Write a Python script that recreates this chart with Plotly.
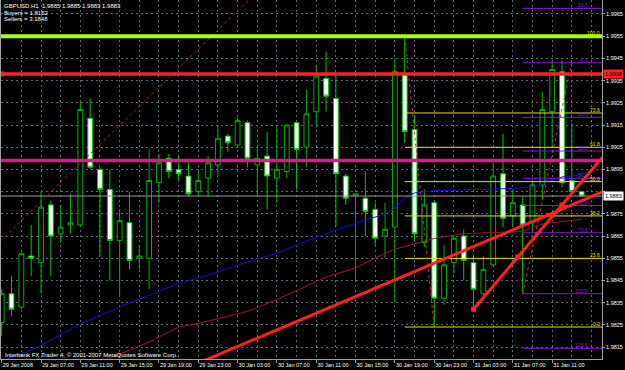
import plotly.graph_objects as go

# ---------------- data ----------------
bars = list(range(60))  # hourly bars from 29 Jan 2008 03:00
tick_pos = [0, 4, 8, 12, 16, 20, 24, 28, 32, 36, 40, 44, 48, 52, 56]
tick_labels = ["29 Jan 2008", "29 Jan 07:00", "29 Jan 11:00", "29 Jan 15:00",
               "29 Jan 19:00", "29 Jan 23:00", "30 Jan 03:00", "30 Jan 07:00",
               "30 Jan 11:00", "30 Jan 15:00", "30 Jan 19:00", "30 Jan 23:00",
               "31 Jan 03:00", "31 Jan 07:00", "31 Jan 11:00"]
price_ticks = [1.9815, 1.9825, 1.9835, 1.9845, 1.9855, 1.9865, 1.9875, 1.9885,
               1.9895, 1.9905, 1.9915, 1.9925, 1.9935, 1.9945, 1.9955, 1.9965]

open_ = [1.9826, 1.9839, 1.9833, 1.9856, 1.9853, 1.9879, 1.9866, 1.9870, 1.9870, 1.9918,
         1.9895, 1.9886, 1.9863, 1.9871, 1.9855, 1.9855, 1.9889, 1.9900, 1.9895, 1.9892,
         1.9885, 1.9891, 1.9897, 1.9910, 1.9906, 1.9916, 1.9897, 1.9901, 1.9891, 1.9894,
         1.9916, 1.9905, 1.9921, 1.9936, 1.9927, 1.9892, 1.9883, 1.9882, 1.9877, 1.9865,
         1.9869, 1.9938, 1.9913, 1.9862, 1.9880, 1.9837, 1.9853, 1.9865, 1.9853, 1.9839,
         1.9852, 1.9893, 1.9874, 1.9879, 1.9871, 1.9888, 1.9921, 1.9939, 1.9890, 1.9885]
high = [1.9841, 1.9847, 1.9857, 1.9870, 1.9885, 1.9881, 1.9879, 1.9884, 1.9926, 1.9927,
        1.9896, 1.9895, 1.9877, 1.9885, 1.9861, 1.9904, 1.9902, 1.9902, 1.9901, 1.9898,
        1.9894, 1.9901, 1.9915, 1.9911, 1.9918, 1.9917, 1.9905, 1.9912, 1.9914, 1.9915,
        1.9916, 1.9931, 1.9942, 1.9948, 1.9938, 1.9893, 1.9884, 1.9894, 1.9880, 1.9880,
        1.9945, 1.9955, 1.9919, 1.9886, 1.9881, 1.9861, 1.9865, 1.9868, 1.9856, 1.9856,
        1.9898, 1.9911, 1.9886, 1.9883, 1.9890, 1.9930, 1.9944, 1.9944, 1.9916, 1.9885]
low = [1.9820, 1.9829, 1.9832, 1.9847, 1.9839, 1.9847, 1.9862, 1.9866, 1.9869, 1.9895,
       1.9856, 1.9845, 1.9838, 1.9850, 1.9850, 1.9841, 1.9880, 1.9891, 1.9890, 1.9883,
       1.9883, 1.9883, 1.9892, 1.9903, 1.9905, 1.9896, 1.9883, 1.9877, 1.9880, 1.9891,
       1.9886, 1.9896, 1.9914, 1.9921, 1.9869, 1.9879, 1.9845, 1.9865, 1.9861, 1.9855,
       1.9835, 1.9907, 1.9863, 1.9860, 1.9824, 1.9834, 1.9848, 1.9845, 1.9833, 1.9838,
       1.9851, 1.9869, 1.9869, 1.9839, 1.9867, 1.9881, 1.9905, 1.9887, 1.9883, 1.9883]
close = [1.9839, 1.9832, 1.9857, 1.9855, 1.9878, 1.9865, 1.9869, 1.9871, 1.9922, 1.9896,
         1.9886, 1.9863, 1.9872, 1.9854, 1.9856, 1.9890, 1.9898, 1.9894, 1.9893, 1.9884,
         1.9890, 1.9898, 1.9909, 1.9907, 1.9917, 1.9900, 1.9900, 1.9892, 1.9895, 1.9915,
         1.9904, 1.9920, 1.9937, 1.9928, 1.9893, 1.9882, 1.9884, 1.9876, 1.9864, 1.9868,
         1.9939, 1.9912, 1.9866, 1.9879, 1.9837, 1.9852, 1.9864, 1.9854, 1.9841, 1.9850,
         1.9892, 1.9873, 1.9880, 1.9870, 1.9888, 1.9922, 1.9940, 1.9889, 1.9885, 1.9883]

ma_blue_x = [0, 3, 5, 8, 12, 15, 18, 20, 22, 25, 28, 31, 34, 37, 39, 40, 41, 42, 44, 48, 52, 54, 56, 57, 58, 59]
ma_blue_y = [1.98087, 1.98136, 1.98181, 1.98254, 1.98330, 1.98384, 1.98436, 1.98461, 1.98488, 1.98533,
             1.98573, 1.98627, 1.98677, 1.98722, 1.98749, 1.98776, 1.98820, 1.98844, 1.98854, 1.98859,
             1.98864, 1.98872, 1.98902, 1.98916, 1.98920, 1.98925]
ma_red_x = [11, 13, 15, 18, 20, 25, 28, 33, 36, 38, 40, 42, 44, 47, 53, 55, 59]
ma_red_y = [1.98100, 1.98136, 1.98172, 1.98240, 1.98256, 1.98310, 1.98364, 1.98465, 1.98506, 1.98551,
            1.98591, 1.98614, 1.98639, 1.98661, 1.98670, 1.98704, 1.98726]

hline_lime = 1.9955
hline_red = 1.9938
hline_pink = 1.9899
bid_price = 1.9883

trend1_x = [26, 58]
trend1_y = [1.9819, 1.9879]
trend2_x = [48, 57]
trend2_y = [1.9832, 1.9879]
dotted_old_x = [-1, 26]
dotted_old_y = [1.9859, 1.9975]

fib_levels = [-23.6, 0.0, 23.6, 38.2, 50.0, 61.8, 73.6, 100.0, 123.6]
fib1_start = 41
fib1_p1, fib1_p2 = 1.9955, 1.9824     # 100% , 0%
fib1_x = [41, 44]
fib2_start = 53
fib2_p1, fib2_p2 = 1.9839, 1.9943
fib2_x = [53, 58]

header = ["GBPUSD,H1  1.9885 1.9885 1.9883 1.9883", "Buyers = 1.8152", "Sellers = 3.1848"]
footer = "Interbank FX Trader 4, \u00a9 2001-2007 MetaQuotes Software Corp."

# ---------------- figure ----------------
XMIN, XMAX = -0.07, 61.07
YMIN, YMAX = 1.98096, 1.99713
FONT = "Liberation Sans"
GRID = "#5d6878"

fig = go.Figure()
fig.add_trace(go.Candlestick(
    x=bars, open=open_, high=high, low=low, close=close,
    increasing=dict(line=dict(color="#00b000", width=1), fillcolor="#000000"),
    decreasing=dict(line=dict(color="#00c800", width=1), fillcolor="#ffffff"),
    whiskerwidth=0, showlegend=False, hoverinfo="skip"))

def line(x, y, color, width, dash="solid", mode="lines", marker=None):
    fig.add_trace(go.Scatter(x=x, y=y, mode=mode, line=dict(color=color, width=width, dash=dash),
                             marker=marker, showlegend=False, hoverinfo="skip"))

# moving averages
line(ma_blue_x, ma_blue_y, "#1010c8", 1)
line(ma_red_x, ma_red_y, "#a01818", 1)

# old dotted fib trend line
line(dotted_old_x, dotted_old_y, "#b01c1c", 1, dash="dot")

# fibonacci objects
def fib(start, p1, p2, color, xs, size, above, xpos):
    for lv in fib_levels:
        p = p2 + lv / 100.0 * (p1 - p2)
        line([start, XMAX], [p, p], color, 1)
        if YMIN < p < YMAX:
            fig.add_annotation(x=xpos, xref="paper", y=p, yref="y", text=f"{abs(lv):.1f}",
                               xanchor="right", yanchor="bottom" if above else "top",
                               showarrow=False,
                               font=dict(family=FONT, size=size, color=color), borderpad=0,
                               yshift=-1 if above else 0)
    line(xs, [p1, p2], "#d03030", 1, dash="dot")

fib(fib1_start, fib1_p1, fib1_p2, "#e4e400", fib1_x, 5, True, 0.9985)
fib(fib2_start, fib2_p1, fib2_p2, "#9414e0", fib2_x, 5, True, 0.978)

# bid line
line([XMIN, XMAX], [bid_price, bid_price], "#9a9a9a", 1)
# horizontal lines
line([XMIN, XMAX], [hline_lime, hline_lime], "#aaff00", 4)
line([XMIN, XMAX], [hline_pink, hline_pink], "#e0188c", 3.5)
line([XMIN, XMAX], [hline_red, hline_red], "#ff2020", 3.5)
line([0], [hline_red], "#ff2020", 1, mode="markers",
     marker=dict(symbol="square", size=5, color="#ff2020"))

# trend lines (rays extended to the right, and left through bottom)
def ray(xs, ys, x0, x1):
    k = (ys[1] - ys[0]) / (xs[1] - xs[0])
    return [x0, x1], [ys[0] + k * (x0 - xs[0]), ys[0] + k * (x1 - xs[0])]

rx, ry = ray(trend1_x, trend1_y, 15, 62)
line(rx, ry, "#ff2020", 3)
rx, ry = ray(trend2_x, trend2_y, trend2_x[0], 62)
line(rx, ry, "#ff2020", 3)
mid = (trend2_x[0] + trend2_x[1]) / 2
line([trend2_x[0], mid, trend2_x[1]], [trend2_y[0], (trend2_y[0] + trend2_y[1]) / 2, trend2_y[1]],
     "#ff2020", 1, mode="markers", marker=dict(symbol="square", size=5, color="#ff2020"))

# header / footer texts
for k, t in enumerate(header):
    fig.add_annotation(x=0.0017, xref="paper", y=1 - (5.7 + 6.8 * k) / 359, yref="paper", text=t,
                       xanchor="left", yanchor="middle", showarrow=False,
                       font=dict(family=FONT, size=6, color="#ffffff"))
fig.add_annotation(x=0.0033, xref="paper", y=1 - 355 / 359, yref="paper", text=footer,
                   xanchor="left", yanchor="middle", showarrow=False,
                   font=dict(family=FONT, size=6, color="#ffffff"))

# price boxes on the axis
fig.add_annotation(x=1.0017, xref="paper", y=hline_red, yref="y", text=f"{hline_red:.4f}",
                   xanchor="left", yanchor="middle", showarrow=False, bgcolor="#ff2020",
                   font=dict(family=FONT, size=5.5, color="#000000"), borderpad=1)
fig.add_annotation(x=1.0017, xref="paper", y=bid_price, yref="y", text=f"{bid_price:.4f}",
                   xanchor="left", yanchor="middle", showarrow=False, bgcolor="#ffffff",
                   font=dict(family=FONT, size=5.5, color="#000000"), borderpad=1)

ytext = [f"{p:.4f}" if abs(p - 1.9885) > 1e-6 else "" for p in price_ticks]
minor_vals = [v for v in range(0, 62, 2) if v not in tick_pos]

fig.update_layout(
    width=625, height=370, margin=dict(l=1, r=23, t=0, b=11),
    paper_bgcolor="#000000", plot_bgcolor="#000000",
    font=dict(family=FONT, size=5.5, color="#ffffff"),
    showlegend=False,
    xaxis=dict(range=[XMIN, XMAX], tickmode="array", tickvals=tick_pos, ticktext=tick_labels,
               tickangle=0, ticklabelposition="outside right", ticks="outside", ticklen=3,
               tickcolor="#a0a0a0",
               tickfont=dict(family=FONT, size=5.5, color="#ffffff"),
               showgrid=True, gridcolor=GRID, griddash="2px,3px", gridwidth=1,
               minor=dict(tickmode="array", tickvals=minor_vals, showgrid=True, gridcolor=GRID,
                          griddash="2px,3px", ticks=""),
               showline=True, linecolor="#a0a0a0", linewidth=1, zeroline=False,
               rangeslider=dict(visible=False), fixedrange=True),
    yaxis=dict(range=[YMIN, YMAX], side="right", tickmode="array", tickvals=price_ticks, ticktext=ytext,
               ticks="outside", ticklen=2, tickcolor="#a0a0a0",
               tickfont=dict(family=FONT, size=5.5, color="#ffffff"),
               showgrid=True, gridcolor=GRID, griddash="2px,3px", gridwidth=1,
               showline=True, linecolor="#a0a0a0", linewidth=1, mirror=True, zeroline=False,
               fixedrange=True),
)

fig.write_html("out.html")
